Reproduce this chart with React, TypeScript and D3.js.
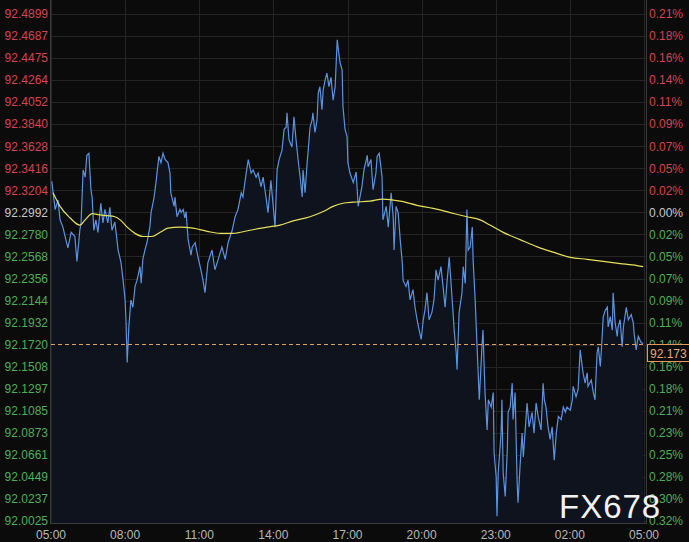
import React from "react";
import * as d3 from "d3";

// minutes after 05:00
const times = [2,10,17,22,29,36,41,49,58,63,70,73,78,83,87,92,97,100,104,109,114,121,126,131,138,143,148,155,158,163,170,175,180,182,185,189,194,199,204,209,216,219,223,228,233,240,243,250,255,262,267,272,277,284,289,291,299,301,306,313,316,321,325,328,333,340,343,350,357,364,369,374,381,391,398,406,415,423,430,440,447,454,462,466,474,479,486,491,498,503,510,515,522,527,534,539,544,549,554,561,566,571,573,578,585,590,595,600,605,610,612,617,622,624,629,634,636,641,646,649,653,658,661,666,670,675,680,685,690,695,697,702,707,709,714,719,721,726,734,741,746,755,760,768,770,777,782,789,792,797,804,806,814,819,826,831,833,838,843,848,853,855,862,867,872,879,884,889,894,899,904,908,913,918,925,930,935,940,947,952,957,962,967,972,977,979,984,986,991,998,1001,1006,1010,1013,1018,1023,1025,1030,1035,1040,1047,1049,1054,1059,1062,1069,1074,1076,1081,1083,1086,1093,1095,1098,1103,1108,1110,1115,1120,1122,1127,1132,1134,1139,1144,1147,1151,1156,1161,1168,1173,1178,1183,1190,1195,1198,1202,1207,1212,1217,1222,1227,1232,1239,1244,1249,1253,1261,1266,1268,1275,1280,1285,1290,1292,1297,1302,1304,1312,1317,1321,1326,1329,1334,1338,1341,1346,1351,1353,1358,1363,1365,1370,1375,1377,1382,1387,1390,1397,1402,1409,1414,1416,1421,1426,1433,1438];

const prices = [92.329,92.302,92.311,92.292,92.285,92.273,92.265,92.280,92.276,92.252,92.282,92.289,92.340,92.333,92.354,92.356,92.321,92.313,92.282,92.292,92.280,92.308,92.289,92.302,92.289,92.304,92.282,92.290,92.280,92.263,92.251,92.234,92.215,92.196,92.155,92.189,92.215,92.208,92.228,92.234,92.247,92.231,92.254,92.263,92.270,92.285,92.299,92.313,92.328,92.353,92.347,92.356,92.350,92.347,92.337,92.318,92.305,92.314,92.295,92.302,92.299,92.302,92.294,92.300,92.273,92.258,92.266,92.270,92.256,92.244,92.234,92.222,92.251,92.263,92.244,92.254,92.266,92.254,92.270,92.282,92.295,92.302,92.318,92.314,92.337,92.350,92.337,92.340,92.333,92.337,92.324,92.333,92.314,92.299,92.330,92.308,92.285,92.340,92.350,92.359,92.379,92.381,92.395,92.369,92.362,92.391,92.369,92.350,92.333,92.314,92.340,92.318,92.347,92.356,92.381,92.388,92.395,92.376,92.388,92.414,92.420,92.398,92.417,92.427,92.433,92.420,92.429,92.407,92.420,92.465,92.458,92.443,92.436,92.401,92.379,92.372,92.347,92.337,92.328,92.338,92.305,92.324,92.340,92.354,92.343,92.350,92.321,92.337,92.353,92.356,92.333,92.292,92.305,92.285,92.318,92.295,92.263,92.305,92.299,92.273,92.251,92.234,92.228,92.234,92.215,92.225,92.208,92.196,92.186,92.177,92.196,92.205,92.222,92.196,92.203,92.215,92.244,92.234,92.247,92.228,92.208,92.234,92.256,92.228,92.199,92.186,92.164,92.148,92.203,92.222,92.247,92.231,92.302,92.263,92.266,92.285,92.254,92.215,92.167,92.119,92.174,92.186,92.126,92.090,92.119,92.112,92.126,92.068,92.045,92.007,92.049,92.087,92.119,92.049,92.026,92.071,92.107,92.112,92.135,92.100,92.126,92.039,92.020,92.055,92.087,92.064,92.087,92.116,92.093,92.107,92.087,92.116,92.103,92.090,92.135,92.119,92.112,92.093,92.081,92.093,92.061,92.087,92.103,92.100,92.112,92.107,92.112,92.109,92.119,92.132,92.122,92.129,92.167,92.151,92.145,92.135,92.145,92.132,92.138,92.126,92.119,92.164,92.170,92.151,92.177,92.199,92.205,92.208,92.189,92.199,92.186,92.222,92.193,92.180,92.189,92.196,92.170,92.189,92.208,92.196,92.201,92.193,92.183,92.167,92.180,92.174,92.173];

const maTimes = [5,22,46,70,83,100,114,136,155,168,185,204,223,245,265,284,313,345,379,411,442,483,525,556,588,629,661,685,709,734,775,806,848,889,928,969,1010,1042,1066,1098,1139,1181,1219,1261,1302,1341,1382,1423,1438];
const maValues = [92.318,92.305,92.294,92.287,92.292,92.298,92.297,92.296,92.295,92.292,92.285,92.279,92.276,92.276,92.280,92.284,92.285,92.284,92.281,92.279,92.279,92.282,92.285,92.287,92.291,92.295,92.300,92.305,92.308,92.309,92.310,92.312,92.310,92.306,92.303,92.299,92.295,92.292,92.287,92.280,92.273,92.266,92.261,92.256,92.254,92.252,92.250,92.248,92.247];

const priceTicks = [92.4899,92.4687,92.4475,92.4264,92.4052,92.3840,92.3628,92.3416,92.3204,92.2992,92.2780,92.2568,92.2356,92.2144,92.1932,92.1720,92.1508,92.1297,92.1085,92.0873,92.0661,92.0449,92.0237,92.0025];
const pctLabels = ["0.21%","0.18%","0.16%","0.14%","0.11%","0.09%","0.07%","0.05%","0.02%","0.00%","0.02%","0.05%","0.07%","0.09%","0.11%","0.14%","0.16%","0.18%","0.21%","0.23%","0.25%","0.28%","0.30%","0.32%"];
const timeTicks = [0,180,360,540,720,900,1080,1260,1440];
const timeLabels = ["05:00","08:00","11:00","14:00","17:00","20:00","23:00","02:00","05:00"];
const refPrice = 92.2992;
const lastPrice = 92.173;
const lastLabel = "92.173";

const W = 689, H = 542;
const RED = "#d8434f", GREEN = "#4fae5a", NEUTRAL = "#c8c8c8";

export default function App() {
  const x = d3.scaleLinear().domain([0, 1440]).range([51, 644]);
  const y = d3.scaleLinear().domain([92.0025, 92.4899]).range([521, 14]);
  const pts = times.map((t, i) => [t, prices[i]] as [number, number]);
  const line = d3.line<[number, number]>().x(d => x(d[0])).y(d => y(d[1]));
  const area = d3.area<[number, number]>().x(d => x(d[0])).y0(523).y1(d => y(d[1]));
  const maPts = maTimes.map((t, i) => [t, maValues[i]] as [number, number]);
  const maLine = d3.line<[number, number]>().x(d => x(d[0])).y(d => y(d[1])).curve(d3.curveMonotoneX);
  const colorFor = (v: number) => Math.abs(v - refPrice) < 1e-6 ? NEUTRAL : v > refPrice ? RED : GREEN;
  const ly = y(lastPrice);
  const font = "'Liberation Sans', Arial, sans-serif";
  return (
    <svg width={W} height={H} style={{ position: "absolute", left: 0, top: 0, display: "block" }} fontFamily={font}>
      <defs>
        <linearGradient id="ag" x1="0" y1="0" x2="0" y2="1" gradientUnits="userSpaceOnUse">
          <stop offset="0" stopColor="#1c2d4d" />
          <stop offset="1" stopColor="#0e131d" />
        </linearGradient>
      </defs>
      <rect x={0} y={0} width={W} height={H} fill="#0b0b0b" />
      {priceTicks.map((v, i) => (
        <line key={"h" + i} x1={51} x2={646} y1={Math.round(y(v)) + 0.5} y2={Math.round(y(v)) + 0.5} stroke="#252525" strokeWidth={1} />
      ))}
      {timeTicks.map((t, i) => (
        <line key={"v" + i} x1={Math.round(x(t)) + 0.5} x2={Math.round(x(t)) + 0.5} y1={0} y2={523} stroke="#252525" strokeWidth={1} />
      ))}
      <path d={area(pts) || ""} fill="url(#ag)" />
      <path d={line(pts) || ""} fill="none" stroke="#5b93e0" strokeWidth={1.2} />
      <path d={maLine(maPts) || ""} fill="none" stroke="#e6e05a" strokeWidth={1.2} />
      <line x1={51} x2={646} y1={Math.round(ly) + 0.5} y2={Math.round(ly) + 0.5} stroke="#e0a060" strokeDasharray="4,3" strokeWidth={1} />
      <line x1={50.5} x2={50.5} y1={0} y2={523} stroke="#3a3a3a" />
      <line x1={646.5} x2={646.5} y1={0} y2={523} stroke="#3a3a3a" />
      <line x1={50} x2={647} y1={523.5} y2={523.5} stroke="#3a3a3a" />
      {priceTicks.map((v, i) => (
        <text key={"l" + i} x={48} y={y(v)} dy="0.36em" textAnchor="end" fontSize={12} fill={colorFor(v)}>{v.toFixed(4)}</text>
      ))}
      {priceTicks.map((v, i) => (
        <text key={"r" + i} x={649} y={y(v)} dy="0.36em" textAnchor="start" fontSize={12} fill={colorFor(v)}>{pctLabels[i]}</text>
      ))}
      {timeTicks.map((t, i) => (
        <text key={"t" + i} x={x(t)} y={535} dy="0.36em" textAnchor="middle" fontSize={12} fill="#b8b8b8">{timeLabels[i]}</text>
      ))}
      <rect x={647.5} y={Math.round(ly) + 0.5} width={50} height={17} fill="#0b0b0b" stroke="#e09a5c" />
      <text x={650} y={Math.round(ly) + 9.5} dy="0.36em" fontSize={12} fill="#e8a870">{lastLabel}</text>
      <text x={559} y={518} fontSize={33} fill="#f2f2f2" letterSpacing={1}>FX678</text>
    </svg>
  );
}
